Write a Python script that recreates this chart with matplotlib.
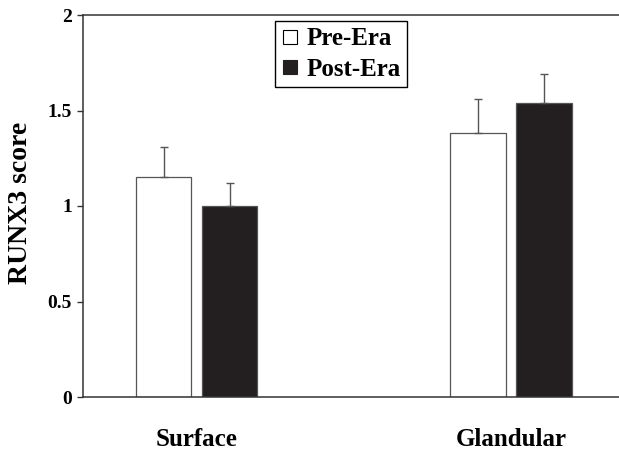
import matplotlib
matplotlib.use("Agg")
import matplotlib.pyplot as plt
from matplotlib.lines import Line2D
import numpy as np

categories = ["Surface", "Glandular"]
series_names = ["Pre-Era", "Post-Era"]
pre_values = [1.15, 1.38]
pre_errors = [0.16, 0.18]
post_values = [1.00, 1.54]
post_errors = [0.12, 0.15]
y_ticks = [0, 0.5, 1, 1.5, 2]
y_tick_labels = ["0", "0.5", "1", "1.5", "2"]

plt.rcParams['font.family'] = ['Liberation Serif', 'DejaVu Serif']
plt.rcParams['font.weight'] = 'bold'

fig = plt.figure(figsize=(6.19, 4.5), dpi=100)
ax = fig.add_axes([83/619, 1-397/450, 1-83/619, (397-15)/450])

x = np.arange(len(categories))
width = 0.1765
off = 0.105
dark = '#231f20'
edge = '#555555'

ax.bar(x - off, pre_values, width, color='white', edgecolor=edge, linewidth=0.9,
       yerr=[np.zeros(len(pre_errors)), pre_errors],
       error_kw=dict(ecolor=edge, elinewidth=1.0, capsize=3.2, capthick=1.0), zorder=2)
ax.bar(x + off, post_values, width, color=dark, edgecolor=edge, linewidth=0.9,
       yerr=[np.zeros(len(post_errors)), post_errors],
       error_kw=dict(ecolor=edge, elinewidth=1.0, capsize=3.2, capthick=1.0), zorder=2)

ax.set_xlim(-0.3613, 1.3435)
ax.set_ylim(0, 2)
ax.set_yticks(y_ticks)
ax.set_yticklabels(y_tick_labels, fontsize=14, fontweight='bold')
ax.set_xticks(x)
ax.set_xticklabels(categories, fontsize=18, fontweight='bold')
ax.tick_params(axis='x', length=0, pad=22)
ax.tick_params(axis='y', length=4, width=1.0, direction='out', pad=4, color='#333333')

for s in ['left', 'top', 'bottom']:
    ax.spines[s].set_linewidth(1.1)
    ax.spines[s].set_color('#333333')
ax.spines['right'].set_visible(False)

fig.text(21/619, 1-203/450, "RUNX3 score", rotation=90, ha='center', va='center',
         fontsize=20, fontweight='bold')

handles = [
    Line2D([], [], linestyle='none', marker='s', markersize=10.5,
           markerfacecolor='white', markeredgecolor='black', markeredgewidth=0.8),
    Line2D([], [], linestyle='none', marker='s', markersize=10.5,
           markerfacecolor=dark, markeredgecolor=dark, markeredgewidth=0.8),
]
leg = fig.legend(handles, series_names, loc='upper left',
                 bbox_to_anchor=(275/619, 1-21/450), fancybox=False,
                 edgecolor='black', framealpha=1, borderaxespad=0,
                 prop=dict(size=18, weight='bold'), handlelength=0.7,
                 handletextpad=0.3, borderpad=0.25, labelspacing=0.3)
leg.get_frame().set_linewidth(1.0)

fig.savefig("out.png", dpi=100)
